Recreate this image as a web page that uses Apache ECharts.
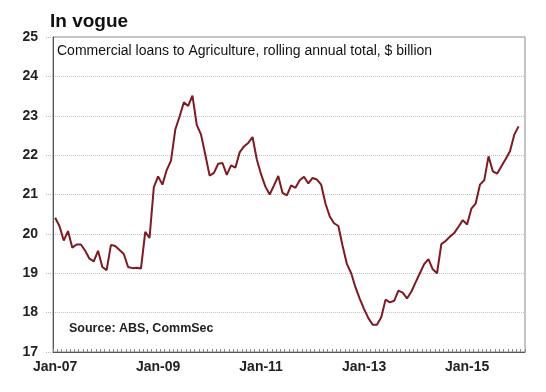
<!DOCTYPE html>
<html>
<head>
<meta charset="utf-8">
<script src="https://cdn.jsdelivr.net/npm/echarts@6/dist/echarts.min.js"></script>
<style>
html,body{margin:0;padding:0;background:#fff;}
#chart{width:546px;height:392px;}
</style>
</head>
<body>
<div id="chart"></div>
<script>
// Monthly categories Jan-07 .. Feb-16
var monthNames = ['Jan','Feb','Mar','Apr','May','Jun','Jul','Aug','Sep','Oct','Nov','Dec'];
var startYear = 2007, monthCount = 110;
var categories = [];
for (var i = 0; i < monthCount; i++) {
  var y = startYear + Math.floor(i / 12);
  categories.push(monthNames[i % 12] + '-' + String(y).slice(2));
}

// Commercial loans to Agriculture, rolling annual total, $ billion (Jan-07 .. Jan-16)
var loans2007 = [20.41, 20.20, 19.83, 20.07, 19.65, 19.73, 19.73, 19.57, 19.37, 19.30, 19.57, 19.16];
var loans2008 = [19.08, 19.72, 19.69, 19.59, 19.49, 19.16, 19.13, 19.14, 19.12, 20.05, 19.90, 21.19];
var loans2009 = [21.46, 21.25, 21.62, 21.86, 22.65, 22.98, 23.34, 23.25, 23.51, 22.77, 22.52, 22.01];
var loans2010 = [21.48, 21.55, 21.78, 21.80, 21.50, 21.74, 21.68, 22.07, 22.22, 22.31, 22.46, 21.89];
var loans2011 = [21.51, 21.20, 21.00, 21.23, 21.47, 21.04, 20.98, 21.23, 21.17, 21.36, 21.45, 21.28];
var loans2012 = [21.42, 21.38, 21.25, 20.77, 20.44, 20.27, 20.20, 19.69, 19.23, 19.00, 18.64, 18.35];
var loans2013 = [18.09, 17.86, 17.69, 17.69, 17.88, 18.33, 18.26, 18.30, 18.56, 18.51, 18.36, 18.53];
var loans2014 = [18.77, 19.00, 19.23, 19.36, 19.10, 19.00, 19.74, 19.82, 19.93, 20.02, 20.18, 20.35];
var loans2015 = [20.24, 20.64, 20.77, 21.25, 21.36, 21.97, 21.59, 21.53, 21.72, 21.90, 22.10, 22.52];
var loans2016 = [22.73];
var loans = [].concat(loans2007, loans2008, loans2009, loans2010, loans2011,
                      loans2012, loans2013, loans2014, loans2015, loans2016);

var yTicks = [17, 18, 19, 20, 21, 22, 23, 24, 25];

var FONT = 'Liberation Sans, Arial, Helvetica, sans-serif';
var chart = echarts.init(document.getElementById('chart'), null, {renderer: 'canvas'});
chart.setOption({
  animation: false,
  backgroundColor: '#ffffff',
  title: {
    text: 'In vogue',
    left: 45, top: 7,
    textStyle: {fontFamily: FONT, fontSize: 19, fontWeight: 'bold', color: '#111'}
  },
  grid: {
    left: 53, right: 21, top: 37, bottom: 40,
    show: true, borderColor: '#8a8a8a', borderWidth: 1, backgroundColor: 'transparent'
  },
  xAxis: {
    type: 'category',
    data: categories,
    boundaryGap: true,
    axisLine: {show: true, lineStyle: {color: '#555', width: 1}},
    axisTick: {show: true, inside: true, length: 3, interval: 0, lineStyle: {color: '#888'}},
    axisLabel: {
      interval: 23, margin: 8,
      fontFamily: FONT, fontSize: 14, fontWeight: 'bold', color: '#222'
    },
    splitLine: {show: false}
  },
  yAxis: {
    type: 'value',
    min: yTicks[0], max: yTicks[yTicks.length - 1], interval: 1,
    axisLine: {show: true, lineStyle: {color: '#555', width: 1}},
    axisTick: {show: true, length: 7, lineStyle: {color: '#bbb', type: 'dotted'}},
    axisLabel: {margin: 15, fontFamily: FONT, fontSize: 14, fontWeight: 'bold', color: '#222'},
    splitLine: {show: true, lineStyle: {color: '#c4c4c4', type: 'dotted', width: 1}}
  },
  graphic: [
    {
      type: 'text', left: 57, top: 44,
      style: {text: 'Commercial loans to Agriculture, rolling annual total, $ billion',
              fontFamily: FONT, fontSize: 14, fill: '#111'}
    },
    {
      type: 'text', left: 69, top: 322,
      style: {text: 'Source: ABS, CommSec',
              fontFamily: FONT, fontSize: 12.5, fontWeight: 'bold', fill: '#222'}
    }
  ],
  series: [{
    type: 'line',
    data: loans,
    symbol: 'none',
    lineStyle: {color: '#7d1a22', width: 2},
    itemStyle: {color: '#7d1a22'}
  }]
});
</script>
</body>
</html>
